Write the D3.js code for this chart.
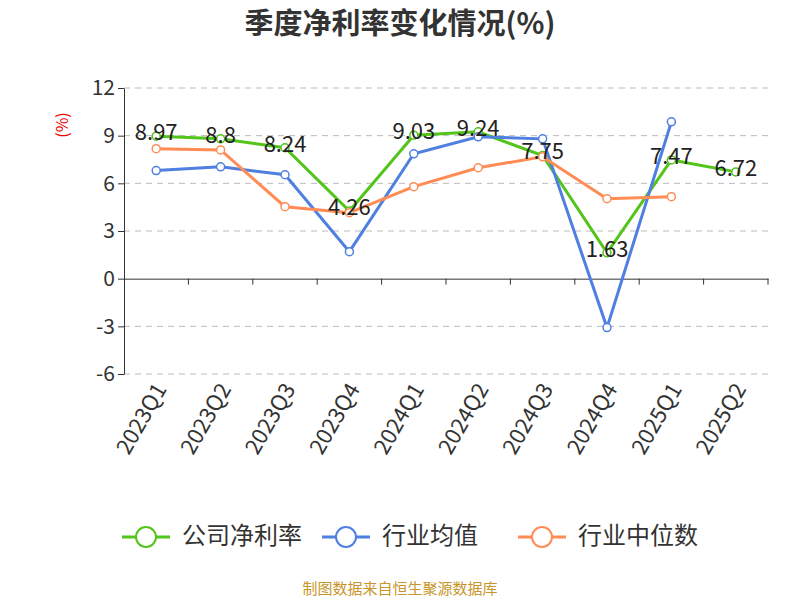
<!DOCTYPE html>
<html><head><meta charset="utf-8">
<script src="https://cdn.jsdelivr.net/npm/d3@7"></script>
<style>body{margin:0;background:#fff}</style></head>
<body><svg id="c" width="800" height="600"></svg>
<script>
const categories=["2023Q1","2023Q2","2023Q3","2023Q4","2024Q1","2024Q2","2024Q3","2024Q4","2025Q1","2025Q2"];
const company=[8.97,8.8,8.24,4.26,9.03,9.24,7.75,1.63,7.47,6.72];
const industryAvg=[6.8,7.04,6.54,1.7,7.86,8.93,8.8,-3.08,9.87,null];
const industryMedian=[8.18,8.1,4.53,4.15,5.79,6.98,7.67,5.03,5.16,null];
const yTicks=[-6,-3,0,3,6,9,12];
const seriesNames=["公司净利率","行业均值","行业中位数"];
const colors=["#52c41a","#4f7fe0","#ff8c55"];
const font="'Noto Sans CJK SC','Noto Sans',sans-serif";
const svg=d3.select("#c");
const x=d3.scaleBand().domain(categories).range([124,768]);
const y=d3.scaleLinear().domain([-6,12]).range([374,88]);
svg.append("text").attr("x",400).attr("y",34).attr("text-anchor","middle").attr("font-family",font).attr("font-weight","bold").attr("font-size",29).attr("fill","#333").text("季度净利率变化情况(%)");
svg.append("text").attr("transform","translate(68,125) rotate(-90)").attr("text-anchor","middle").attr("font-family",font).attr("font-size",16).attr("fill","#e00").text("(%)");
yTicks.forEach(t=>{ if(t!==0) svg.append("line").attr("x1",124).attr("x2",768).attr("y1",y(t)).attr("y2",y(t)).attr("stroke","#bbb").attr("stroke-dasharray","6,5");});
const ya=svg.append("g").attr("transform","translate(124,0)").call(d3.axisLeft(y).tickValues(yTicks).tickFormat(d=>String(d)).tickSize(6).tickSizeOuter(0));
ya.selectAll("text").attr("font-size",21).attr("font-family",font).attr("fill","#333");
ya.selectAll("line,path").attr("stroke","#333");
const xa=svg.append("g").attr("transform",`translate(0,${y(0)})`).call(d3.axisBottom(x).tickSize(6).tickSizeOuter(0));
xa.selectAll("line,path").attr("stroke","#333");
xa.selectAll(".tick line").attr("transform",`translate(${x.bandwidth()/2},0)`);
xa.selectAll("text").remove();
categories.forEach(c=>{svg.append("text").attr("transform",`translate(${x(c)+x.bandwidth()/2+6},${386}) rotate(-60)`).attr("text-anchor","end").attr("dominant-baseline","middle").attr("font-family",font).attr("font-size",22).attr("fill","#333").text(c);});
const cx=c=>x(c)+x.bandwidth()/2;
[company,industryAvg,industryMedian].forEach((data,i)=>{
 const pts=categories.map((c,j)=>[c,data[j]]).filter(d=>d[1]!=null);
 svg.append("path").attr("d",d3.line().x(d=>cx(d[0])).y(d=>y(d[1]))(pts)).attr("fill","none").attr("stroke",colors[i]).attr("stroke-width",3);
 svg.selectAll(null).data(pts).enter().append("circle").attr("cx",d=>cx(d[0])).attr("cy",d=>y(d[1])).attr("r",4).attr("fill","#fff").attr("stroke",colors[i]).attr("stroke-width",1.5);
});
categories.forEach((c,j)=>{svg.append("text").attr("x",cx(c)).attr("y",y(company[j])-2).attr("text-anchor","middle").attr("dominant-baseline","middle").attr("font-family",font).attr("font-size",22).attr("fill","#222").text(company[j]);});
const lx=[122,322,518];
seriesNames.forEach((n,i)=>{
 const g=svg.append("g");
 g.append("line").attr("x1",lx[i]).attr("x2",lx[i]+48).attr("y1",537).attr("y2",537).attr("stroke",colors[i]).attr("stroke-width",3);
 g.append("circle").attr("cx",lx[i]+24).attr("cy",537).attr("r",10).attr("fill","#fff").attr("stroke",colors[i]).attr("stroke-width",2);
 g.append("text").attr("x",lx[i]+60).attr("y",537).attr("dominant-baseline","middle").attr("font-family",font).attr("font-size",24).attr("fill","#333").text(n);
});
svg.append("text").attr("x",400).attr("y",594).attr("text-anchor","middle").attr("font-family",font).attr("font-size",15).attr("fill","#c8962a").text("制图数据来自恒生聚源数据库");
</script></body></html>
